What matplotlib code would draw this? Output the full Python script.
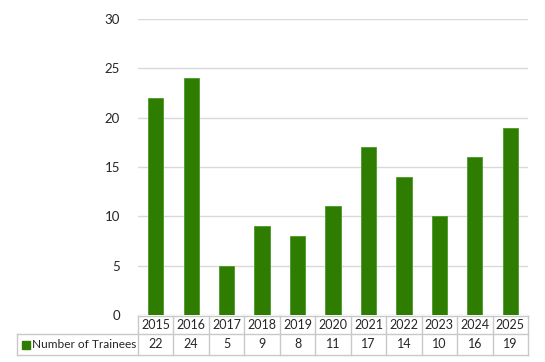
import matplotlib.pyplot as plt
from matplotlib.lines import Line2D
from matplotlib.patches import Rectangle
from matplotlib.transforms import blended_transform_factory

years = ["2015", "2016", "2017", "2018", "2019", "2020", "2021", "2022", "2023", "2024", "2025"]
trainees = [22, 24, 5, 9, 8, 11, 17, 14, 10, 16, 19]
series_name = "Number of Trainees"

W, H = 545, 362
green = "#2e7d00"
grid_c = "#d9d9d9"
border_c = "#c8c8c8"
txt_c = "#262626"

plt.rcParams["font.family"] = ["Lato", "DejaVu Sans"]
plt.rcParams["font.size"] = 9.5

fig = plt.figure(figsize=(W / 100, H / 100), dpi=100)


def fx(px):
    return px / W


def fy(py):
    return 1 - py / H


ax_left, ax_right, ax_top, ax_bot = 138, 528, 19, 315
ax = fig.add_axes([fx(ax_left), fy(ax_bot), fx(ax_right - ax_left), fy(ax_top) - fy(ax_bot)])

x = range(len(years))
ax.bar(x, trainees, width=0.43, color=green, edgecolor="#4a9a2a", linewidth=0.6, zorder=3)
ax.set_xlim(-0.5, len(years) - 0.5)
ax.set_ylim(0, 30)
ax.set_yticks([0, 5, 10, 15, 20, 25, 30])
ax.yaxis.grid(True, color=grid_c, linewidth=1)
ax.set_xticks([])
ax.tick_params(axis="y", length=0, pad=13, labelcolor=txt_c)
for s in ax.spines.values():
    s.set_visible(False)

# data table below the chart
row1_top, row_mid, row_bot = 316, 334, 355
tbl_left = 17
for py in (row1_top, row_mid, row_bot):
    x0 = ax_left if py == row1_top else tbl_left
    fig.add_artist(Line2D([fx(x0), fx(ax_right)], [fy(py), fy(py)], color=border_c, lw=1))
fig.add_artist(Line2D([fx(tbl_left), fx(tbl_left)], [fy(row_mid), fy(row_bot)], color=border_c, lw=1))
col_w = (ax_right - ax_left) / len(years)
for i in range(len(years) + 1):
    px = ax_left + i * col_w
    fig.add_artist(Line2D([fx(px), fx(px)], [fy(row1_top), fy(row_bot)], color=border_c, lw=1))

trans = blended_transform_factory(ax.transData, fig.transFigure)
for i, (yr, v) in enumerate(zip(years, trainees)):
    fig.text(i, fy((row1_top + row_mid) / 2), yr, transform=trans, ha="center", va="center",
             color=txt_c, fontsize=9)
    fig.text(i, fy((row_mid + row_bot) / 2), str(v), transform=trans, ha="center", va="center",
             color=txt_c, fontsize=9)

fig.add_artist(Rectangle((fx(22), fy(349)), fx(8), fy(341) - fy(349), color=green))
fig.text(fx(32), fy((row_mid + row_bot) / 2), series_name, ha="left", va="center", color=txt_c,
         fontsize=8.6)

fig.savefig("out.png", dpi=100)
